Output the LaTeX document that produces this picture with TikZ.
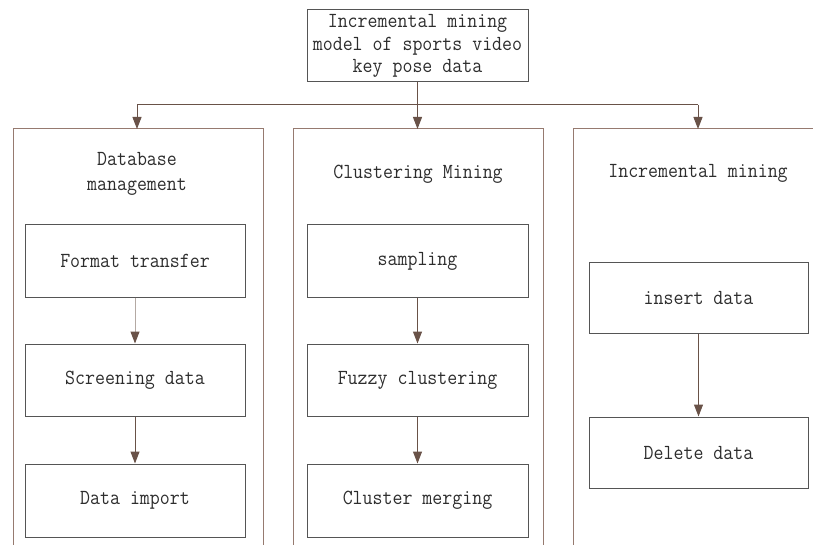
\documentclass[tikz,border=0pt]{standalone}
\usepackage{fontspec}
\setmonofont[FakeStretch=0.9]{Latin Modern Mono}
\usetikzlibrary{arrows.meta}
\definecolor{conn}{RGB}{105,82,72}
\definecolor{panelc}{RGB}{150,122,112}
\definecolor{boxc}{RGB}{85,85,85}
\definecolor{txt}{RGB}{45,45,45}
\tikzset{
  stepbox/.style={draw=boxc, line width=1pt, minimum width=220pt, minimum height=72pt, inner sep=0pt, align=center, text=txt, font=\ttfamily\fontsize{21.5}{22.5}\selectfont},
  paneltitle/.style={inner sep=0pt, align=center, text=txt, font=\ttfamily\fontsize{21.5}{25}\selectfont},
  panelline/.style={draw=panelc, line width=1pt},
  connector/.style={draw=conn, line width=1pt, -{Triangle[length=12pt,width=9pt,color=conn]}},
  plainconn/.style={draw=conn, line width=1pt}
}
\begin{document}
\begin{tikzpicture}[x=1pt,y=-1pt]
\useasboundingbox (0,0) rectangle (813,545);
% top box
\node[stepbox, minimum width=221pt] (top) at (417.5,46) {Incremental mining\\model of sports video\\key pose data};
% panels
\draw[panelline] (13,545) -- (13,129) -- (263,129) -- (263,545);
\draw[panelline] (293,545) -- (293,129) -- (543,129) -- (543,545);
\draw[panelline] (573,545) -- (573,129) -- (813,129);
\coordinate (p1) at (137,129);
\coordinate (p2) at (417.5,129);
\coordinate (p3) at (698,129);
\coordinate (h1) at (137,105);
\coordinate (h3) at (698,105);
\draw[plainconn] (h1) -- (h3);
\draw[connector] (top.south) -- (p2);
\draw[connector] (h1) -- (p1);
\draw[connector] (h3) -- (p3);
% titles
\node[paneltitle] (t1) at (137,174) {Database\\management};
\node[paneltitle] (t2) at (418,174) {Clustering Mining};
\node[paneltitle] (t3) at (698,173) {Incremental mining};
% left column
\node[stepbox] (a1) at (135,261) {Format transfer};
\node[stepbox] (a2) at (135,380) {Screening data};
\node[stepbox, minimum height=73pt] (a3) at (135,500.5) {Data import};
% middle column
\node[stepbox, minimum width=221pt] (b1) at (417.5,261) {sampling};
\node[stepbox, minimum width=221pt] (b2) at (417.5,380) {Fuzzy clustering};
\node[stepbox, minimum width=221pt, minimum height=73pt] (b3) at (417.5,500.5) {Cluster merging};
% right column
\node[stepbox, minimum width=219pt, minimum height=71pt] (c1) at (698.5,297.5) {insert data};
\node[stepbox, minimum width=219pt, minimum height=71pt] (c2) at (698.5,452.5) {Delete data};
% arrows
\draw[connector, draw=conn!50] (a1) -- (a2);
\draw[connector] (a2) -- (a3);
\draw[connector] (b1) -- (b2);
\draw[connector] (b2) -- (b3);
\draw[connector] (c1) -- (c2);
\end{tikzpicture}
\end{document}
